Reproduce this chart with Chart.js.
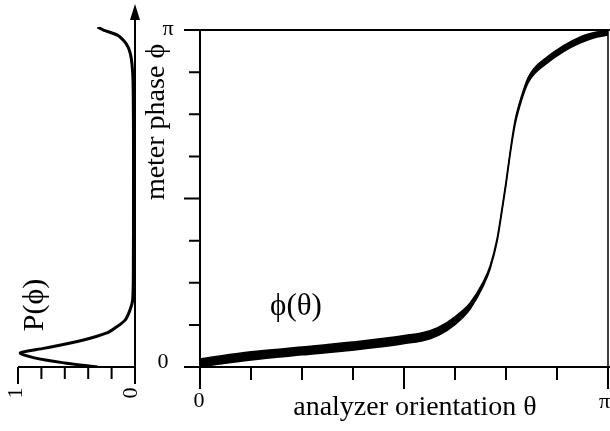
<!DOCTYPE html>
<html lang="en">
<head>
    <meta charset="UTF-8">
    <title>meter phase</title>
    <script src="https://cdn.jsdelivr.net/npm/chart.js"></script>
    <style>
        body { margin: 0; background: #fff; }
        .capa { position: absolute; left: 0; top: 0; width: 610px; height: 431px; }
    </style>
</head>
<body>
    <div class="capa"><canvas id="fase" width="610" height="431"></canvas></div>
    <div class="capa"><canvas id="prob" width="610" height="431"></canvas></div>
<script>
// theta and phi in units of pi
const theta = [0, 0.049, 0.125, 0.25, 0.373, 0.498, 0.564, 0.605, 0.645, 0.662, 0.694, 0.711, 0.728, 0.740, 0.750, 0.760, 0.772, 0.789, 0.804, 0.821, 0.841, 0.890, 0.931, 0.973, 1.0];
const phiHigh = [0.024, 0.033, 0.045, 0.059, 0.074, 0.093, 0.108, 0.132, 0.169, 0.190, 0.252, 0.300, 0.380, 0.469, 0.549, 0.638, 0.730, 0.807, 0.858, 0.889, 0.911, 0.953, 0.979, 0.994, 1.0];
const phiLow = [0, 0.009, 0.021, 0.036, 0.050, 0.069, 0.084, 0.108, 0.148, 0.172, 0.240, 0.291, 0.371, 0.460, 0.540, 0.629, 0.718, 0.795, 0.843, 0.872, 0.893, 0.935, 0.961, 0.979, 0.985];

// distribution P(phi)
const phiP = [0, 0.012, 0.027, 0.042, 0.056, 0.080, 0.101, 0.116, 0.139, 0.169, 0.199, 0.3, 0.5, 0.7, 0.85, 0.9, 0.93, 0.95, 0.968, 0.985, 1.0, 1.009];
const probP = [0.32, 0.6, 0.86, 0.98, 0.77, 0.44, 0.24, 0.17, 0.085, 0.043, 0.02, 0.014, 0.013, 0.013, 0.017, 0.026, 0.04, 0.06, 0.095, 0.15, 0.27, 0.32];

const thetaTicks = [0, 0.125, 0.25, 0.375, 0.5, 0.625, 0.75, 0.875, 1];
const phiTicks = [0, 0.125, 0.25, 0.375, 0.5, 0.625, 0.75, 0.875, 1];
const pTicks = [0, 0.2, 0.4, 0.6, 0.8, 1];
const piLabels = ['0', 'π'];
const pLabels = ['0', '1'];

const serif = '"Liberation Serif", "Times New Roman", serif';

function textoRotado(ctx, txt, x, y, size) {
    ctx.save();
    ctx.translate(x, y);
    ctx.rotate(-Math.PI / 2);
    ctx.font = size + 'px ' + serif;
    ctx.textAlign = 'center';
    ctx.textBaseline = 'middle';
    ctx.fillText(txt, 0, 0);
    ctx.restore();
}

const marcoFase = {
    id: 'marcoFase',
    afterDraw(chart) {
        const ctx = chart.ctx;
        const x = chart.scales.x, y = chart.scales.y;
        const x0 = x.getPixelForValue(0), x1 = x.getPixelForValue(1);
        const y0 = y.getPixelForValue(0), y1 = y.getPixelForValue(1);
        ctx.save();
        ctx.strokeStyle = '#000';
        ctx.lineWidth = 2;
        ctx.beginPath();
        ctx.moveTo(x0, y0); ctx.lineTo(x0, y1);
        ctx.moveTo(x0, y0); ctx.lineTo(610, y0);
        ctx.moveTo(x0, y1); ctx.lineTo(610, y1);
        ctx.stroke();
        ctx.lineWidth = 1.5;
        ctx.beginPath();
        ctx.moveTo(x1, y1); ctx.lineTo(x1, y0);
        ctx.stroke();
        ctx.lineWidth = 2;
        ctx.beginPath();
        for (const v of phiTicks) {
            const py = y.getPixelForValue(v);
            const len = (v == 0 || v == 0.5 || v == 1) ? 16 : 11;
            ctx.moveTo(x0, py); ctx.lineTo(x0 - len, py);
        }
        for (const v of thetaTicks) {
            const px = x.getPixelForValue(v);
            const len = (v == 0 || v == 0.5 || v == 1) ? 22 : 13;
            ctx.moveTo(px, y0); ctx.lineTo(px, y0 + len);
        }
        ctx.stroke();

        ctx.fillStyle = '#000';
        ctx.font = '22px ' + serif;
        ctx.textAlign = 'center';
        ctx.textBaseline = 'alphabetic';
        ctx.fillText(piLabels[0], x0 - 37, y0 + 1);
        ctx.fillText(piLabels[1], x0 - 32, y1 + 5);
        ctx.fillText(piLabels[0], x0 - 1, y0 + 40);
        ctx.textAlign = 'left';
        ctx.fillText(piLabels[1], x1 - 9, y0 + 41);

        ctx.textAlign = 'center';
        ctx.font = '28px ' + serif;
        ctx.fillText('analyzer orientation θ', 415, 415);
        textoRotado(ctx, 'meter phase ϕ', 157, 122, 28);
        ctx.font = '31px ' + serif;
        ctx.textBaseline = 'middle';
        ctx.fillText('ϕ(θ)', 296, 307);
        ctx.restore();
    }
};

const marcoProb = {
    id: 'marcoProb',
    afterDraw(chart) {
        const ctx = chart.ctx;
        const x = chart.scales.x, y = chart.scales.y;
        const xa = x.getPixelForValue(0), xb = x.getPixelForValue(1);
        const y0 = y.getPixelForValue(0);
        ctx.save();
        ctx.strokeStyle = '#000';
        ctx.fillStyle = '#000';
        ctx.lineWidth = 2;
        ctx.beginPath();
        ctx.moveTo(xa, y0); ctx.lineTo(xa, 16);
        ctx.moveTo(xa, y0); ctx.lineTo(xb, y0);
        for (const v of pTicks) {
            const px = x.getPixelForValue(v);
            const len = (v == 0 || v == 1) ? 17 : 12;
            ctx.moveTo(px, y0); ctx.lineTo(px, y0 + len);
        }
        ctx.stroke();
        ctx.beginPath();
        ctx.moveTo(xa, 4); ctx.lineTo(xa - 5, 20); ctx.lineTo(xa + 5, 20);
        ctx.closePath();
        ctx.fill();

        textoRotado(ctx, pLabels[0], xa - 4, 393, 22);
        textoRotado(ctx, pLabels[1], xb - 2, 393, 22);
        textoRotado(ctx, 'P(ϕ)', 35, 305, 30);
        ctx.restore();
    }
};

new Chart(document.getElementById('fase'), {
    type: 'line',
    data: {
        datasets: [{
            data: theta.map((t, i) => ({x: t, y: phiHigh[i]})),
            borderColor: '#000',
            borderWidth: 1.5,
            pointRadius: 0,
            cubicInterpolationMode: 'monotone',
            fill: false
        }, {
            data: theta.map((t, i) => ({x: t, y: phiLow[i]})),
            borderColor: '#000',
            backgroundColor: '#000',
            borderWidth: 1.5,
            pointRadius: 0,
            cubicInterpolationMode: 'monotone',
            fill: '-1'
        }]
    },
    options: {
        responsive: false,
        animation: false,
        devicePixelRatio: 1,
        layout: { padding: { left: 200, right: 2, top: 30, bottom: 64 } },
        plugins: { legend: { display: false }, tooltip: { enabled: false } },
        scales: {
            x: { type: 'linear', min: 0, max: 1, display: false },
            y: { type: 'linear', min: 0, max: 1, display: false }
        }
    },
    plugins: [marcoFase]
});

new Chart(document.getElementById('prob'), {
    type: 'line',
    data: {
        datasets: [{
            data: phiP.map((f, i) => ({x: probP[i], y: f})),
            borderColor: '#000',
            borderWidth: 3,
            pointRadius: 0,
            tension: 0.3,
            fill: false
        }]
    },
    options: {
        responsive: false,
        animation: false,
        devicePixelRatio: 1,
        layout: { padding: { left: 18, right: 475, top: 27, bottom: 64 } },
        plugins: { legend: { display: false }, tooltip: { enabled: false } },
        scales: {
            x: { type: 'linear', min: 0, max: 1, reverse: true, display: false },
            y: { type: 'linear', min: 0, max: 1.009, display: false }
        }
    },
    plugins: [marcoProb]
});
</script>
</body>
</html>
